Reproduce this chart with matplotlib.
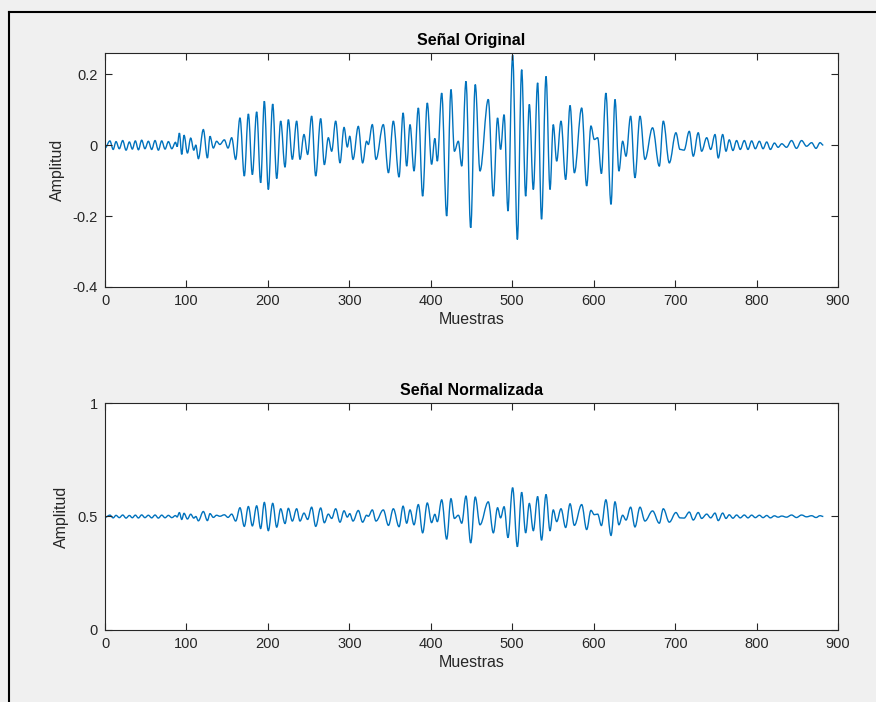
import numpy as np
import matplotlib.pyplot as plt
from matplotlib.lines import Line2D
from matplotlib.path import Path
from matplotlib.patches import PathPatch

plt.rcParams['font.family'] = ['Liberation Sans', 'DejaVu Sans']

# turning points of the recorded signal (sample index, amplitude)
muestras = [
    0, 6, 10, 13.5, 17.5, 21.7, 25.8, 29.9, 33.5, 37.2, 41, 45, 49, 53.2, 57.3,
    61.4, 65.5, 69.6, 73.7, 77.8, 82, 86.5, 88.5, 91.3, 94.2, 97, 101.2, 105.2,
    109, 111.5, 114.6, 120.7, 125.7, 128.9, 133, 137, 141, 146.5, 151, 155.5,
    160.4, 165.7, 171, 176, 180.9, 186.2, 191.1, 195.6, 200.5, 205.9, 210.8,
    215.7, 221, 225.1, 230, 235.3, 239.4, 244.3, 248.8, 253.7, 258.7, 264.8,
    269.3, 274.2, 278.3, 283.2, 288.5, 293.5, 297.5, 300.5, 304.5, 311, 316.3,
    321.2, 323.3, 328.2, 332.7, 341.7, 348, 354, 361, 366, 370.4, 374.5, 379.4,
    384.7, 390, 395.7, 401, 405, 408, 413.4, 419.5, 424.8, 429, 433.8, 438,
    443.2, 449, 454.6, 460.4, 470.6, 476.8, 482, 485.7, 490, 494.8, 500.5,
    506.3, 511.6, 516.5, 521, 525.9, 531.2, 536, 541.5, 546.4, 550.4, 554.6,
    559.9, 565.6, 571, 576.3, 585.3, 591.4, 596.7, 600.8, 604.9, 609.5, 615,
    621.3, 626.2, 631, 635.6, 639.7, 645.4, 650.7, 656.9, 663, 672.3, 680.6,
    685.5, 692.9, 701, 706, 711, 717.4, 722.3, 728.4, 732.6, 738.8, 743.7, 749,
    753, 758.4, 762.5, 766.5, 771, 775.5, 780, 785, 789.5, 794, 798.5, 803.5,
    808, 812.5, 817, 822, 826.5, 831, 836.8, 843, 849, 855.3, 861.4, 867.6,
    873, 878, 882,
]
amplitud = [
    -0.008, 0.012, -0.012, 0.010, -0.010, 0.013, -0.014, 0.009, -0.011, 0.012,
    -0.013, 0.014, -0.010, 0.011, -0.012, 0.013, -0.014, 0.012, -0.011, 0.010,
    -0.010, 0.008, -0.004, 0.034, -0.026, 0.028, -0.022, 0.020, -0.014, 0.000,
    -0.038, 0.044, -0.036, 0.025, -0.008, 0.011, 0.002, 0.015, -0.008, 0.021,
    -0.040, 0.077, -0.087, 0.088, -0.083, 0.094, -0.106, 0.124, -0.125, 0.116,
    -0.094, 0.068, -0.062, 0.072, -0.040, 0.068, -0.040, 0.030, -0.026, 0.082,
    -0.087, 0.075, -0.055, 0.021, -0.017, 0.068, -0.050, 0.050, -0.005, 0.025,
    -0.040, 0.053, -0.050, 0.011, 0.002, 0.058, -0.040, 0.058, -0.078, 0.068,
    -0.090, 0.091, -0.059, 0.058, -0.073, 0.105, -0.144, 0.119, -0.054, 0.019,
    -0.045, 0.147, -0.200, 0.157, -0.017, 0.011, -0.059, 0.180, -0.233, 0.171,
    -0.073, 0.129, -0.144, 0.077, -0.012, 0.086, -0.186, 0.254, -0.266, 0.213,
    -0.144, 0.115, -0.125, 0.176, -0.209, 0.194, -0.125, 0.058, -0.045, 0.068,
    -0.097, 0.112, -0.078, 0.105, -0.115, 0.054, 0.016, 0.021, -0.080, 0.147,
    -0.167, 0.129, -0.073, 0.011, -0.031, 0.082, -0.092, 0.082, -0.040, 0.049,
    -0.059, 0.068, -0.050, 0.035, -0.012, -0.014, 0.039, -0.031, 0.035, -0.017,
    0.021, -0.012, 0.030, -0.036, 0.030, -0.017, 0.015, -0.015, 0.013, -0.012,
    0.013, -0.012, 0.012, -0.010, 0.011, -0.010, 0.009, -0.012, 0.006, -0.006,
    0.004, -0.006, 0.013, -0.009, 0.013, -0.003, 0.007, -0.009, 0.007, 0.000,
]

x_ticks = [0, 100, 200, 300, 400, 500, 600, 700, 800, 900]
y_ticks_orig = [-0.4, -0.2, 0, 0.2]
y_ticks_norm = [0, 0.5, 1]

muestras = np.array(muestras)
amplitud = np.array(amplitud)
normalizada = (amplitud + 1) / 2

azul = '#0072BD'
gris = '#262626'


def onda(ax, x, y):
    # smooth wave through the turning points (flat tangent at each one)
    verts = [(x[0], y[0])]
    codes = [Path.MOVETO]
    for x0, y0, x1, y1 in zip(x[:-1], y[:-1], x[1:], y[1:]):
        d = 0.364 * (x1 - x0)
        verts += [(x0 + d, y0), (x1 - d, y1), (x1, y1)]
        codes += [Path.CURVE4] * 3
    ax.add_patch(PathPatch(Path(verts, codes), fill=False,
                           edgecolor=azul, lw=1.0))


fig = plt.figure(figsize=(8.76, 7.02), dpi=100, facecolor='#f0f0f0')
ax1 = fig.add_axes([0.1199, 0.5912, 0.8367, 0.3333])
ax2 = fig.add_axes([0.1199, 0.1026, 0.8367, 0.3233])

for ax in (ax1, ax2):
    ax.set_facecolor('white')
    ax.set_xlim(0, 900)
    ax.set_xticks(x_ticks)
    ax.tick_params(direction='in', top=True, right=True, length=5,
                   width=0.8, colors=gris, labelsize=10.5, pad=5)
    for s in ax.spines.values():
        s.set_color(gris)
        s.set_linewidth(0.8)
    ax.set_xlabel('Muestras', fontsize=11.5, color=gris, labelpad=3)
    ax.set_ylabel('Amplitud', fontsize=11.5, color=gris, labelpad=6)

onda(ax1, muestras, amplitud)
ax1.set_ylim(-0.4, 0.26)
ax1.set_yticks(y_ticks_orig)
ax1.set_yticklabels(['-0.4', '-0.2', '0', '0.2'])
ax1.set_title('Señal Original', fontsize=11.5, fontweight='bold', pad=6)

onda(ax2, muestras, normalizada)
ax2.set_ylim(0, 1)
ax2.set_yticks(y_ticks_norm)
ax2.set_yticklabels(['0', '0.5', '1'])
ax2.set_title('Señal Normalizada', fontsize=11.5, fontweight='bold', pad=6)

# window edge
fig.add_artist(Line2D([8.5 / 876, 8.5 / 876], [0, 1 - 12 / 702], color='black', lw=1.5))
fig.add_artist(Line2D([8.5 / 876, 1], [1 - 12 / 702, 1 - 12 / 702], color='black', lw=1.5))

fig.savefig('out.png', dpi=100, facecolor=fig.get_facecolor())
